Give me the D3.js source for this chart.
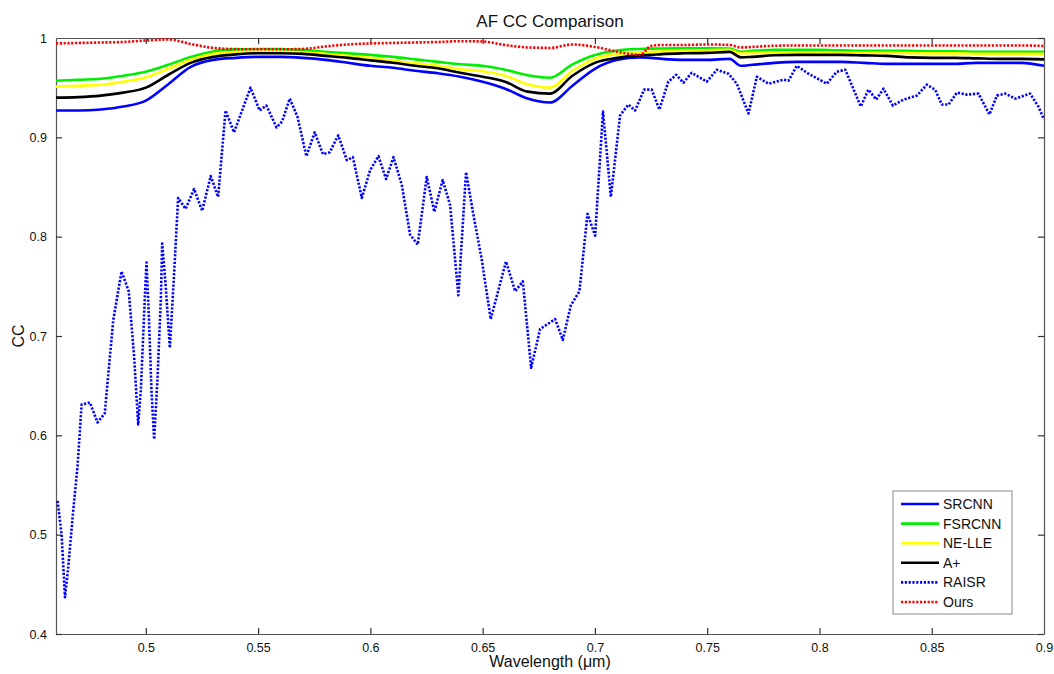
<!DOCTYPE html>
<html>
<head>
<meta charset="utf-8">
<script src="https://cdn.jsdelivr.net/npm/d3@7"></script>
<style>
  html, body { margin: 0; padding: 0; background: #fff; }
  svg { display: block; font-family: "Liberation Sans", Arial, Helvetica, sans-serif; }
</style>
</head>
<body>
<svg id="chart" width="1054" height="674"></svg>
<script>
// Wavelength grid (µm) shared by the smooth methods
const wavelengths = [0.46,0.47,0.48,0.49,0.50,0.51,0.52,0.53,0.54,0.55,0.56,0.57,0.58,0.59,0.60,
  0.61,0.62,0.63,0.64,0.65,0.66,0.67,0.68,0.69,0.70,0.71,0.72,0.725,0.73,0.74,0.75,0.76,0.765,
  0.77,0.78,0.79,0.80,0.81,0.82,0.83,0.84,0.85,0.86,0.87,0.88,0.89,0.90];

const srcnn = [0.927,0.927,0.928,0.931,0.937,0.9535,0.971,0.978,0.980,0.981,0.981,0.980,0.978,0.975,0.972,
  0.970,0.967,0.9645,0.961,0.956,0.949,0.939,0.935,0.952,0.969,0.978,0.9805,0.980,0.979,0.978,0.978,0.979,0.972,
  0.973,0.975,0.976,0.976,0.976,0.975,0.974,0.974,0.974,0.974,0.975,0.975,0.975,0.972];

const fsrcnn = [0.957,0.958,0.959,0.962,0.966,0.973,0.981,0.9865,0.9885,0.989,0.9888,0.988,0.986,0.9845,0.983,
  0.981,0.9785,0.976,0.9735,0.972,0.968,0.9625,0.960,0.9735,0.983,0.9875,0.989,0.9893,0.9895,0.9896,0.9896,0.9893,0.986,
  0.987,0.988,0.988,0.988,0.9875,0.987,0.987,0.987,0.9865,0.9865,0.986,0.986,0.986,0.986];

const nelle = [0.951,0.952,0.953,0.956,0.9605,0.969,0.978,0.984,0.9858,0.9862,0.986,0.9857,0.984,0.982,0.980,
  0.977,0.9745,0.972,0.9685,0.9665,0.962,0.9535,0.950,0.967,0.979,0.984,0.9855,0.986,0.9865,0.9873,0.9877,0.988,0.9846,
  0.985,0.985,0.985,0.985,0.985,0.985,0.985,0.9848,0.9845,0.9845,0.9842,0.984,0.984,0.984];

const aplus = [0.940,0.9405,0.942,0.945,0.950,0.963,0.975,0.981,0.9835,0.9846,0.9846,0.984,0.982,0.980,0.9775,
  0.975,0.972,0.9695,0.965,0.961,0.956,0.946,0.944,0.962,0.975,0.980,0.9825,0.983,0.9838,0.9846,0.985,0.986,0.9805,
  0.981,0.9826,0.983,0.983,0.983,0.9825,0.982,0.9805,0.980,0.980,0.9795,0.979,0.979,0.9785];

const ours = [0.9945,0.995,0.9955,0.996,0.9975,0.9985,0.994,0.990,0.9888,0.9886,0.9886,0.989,0.9915,0.9935,0.9945,
  0.995,0.9955,0.996,0.9968,0.9965,0.993,0.9905,0.990,0.9935,0.991,0.9862,0.983,0.992,0.993,0.993,0.9935,0.993,0.9905,
  0.991,0.9922,0.9925,0.9925,0.9925,0.9925,0.9925,0.9925,0.9925,0.9925,0.9925,0.9925,0.9925,0.992];

// RAISR is sampled on its own, denser wavelength set
const raisrWavelengths = [0.4607,0.4625,0.4640,0.4654,0.4677,0.4696,0.4714,0.4751,0.4785,0.4817,0.4855,0.4892,
  0.4924,0.4948,0.4966,0.4978,0.4996,0.5003,0.5013,0.5025,0.5037,0.5052,0.5067,0.5073,0.5088,0.5107,0.5126,0.5144,
  0.5177,0.5215,0.5251,0.5289,0.5322,0.5355,0.5393,0.5466,0.5507,0.5537,0.5582,0.5607,0.5641,0.5675,0.5715,0.5752,
  0.5789,0.5819,0.5857,0.5895,0.5922,0.5962,0.5999,0.6036,0.6070,0.6103,0.6140,0.6177,0.6211,0.6251,0.6285,0.6322,
  0.6355,0.6392,0.6426,0.6459,0.6496,0.6536,0.6604,0.6645,0.6679,0.6716,0.6756,0.6823,0.6857,0.6893,0.6931,0.6967,
  0.7001,0.7036,0.7071,0.7112,0.7149,0.7179,0.7219,0.7253,0.7287,0.7327,0.7362,0.7394,0.7431,0.7498,0.7543,0.7595,
  0.7632,0.7684,0.7721,0.7773,0.7840,0.7862,0.7899,0.7951,0.8033,0.8077,0.8115,0.8184,0.8218,0.8253,0.8285,0.8327,
  0.8374,0.8434,0.8478,0.8515,0.8545,0.8575,0.8612,0.8656,0.8708,0.8757,0.8790,0.8827,0.8872,0.8938,0.8975,0.9000];
const raisr = [0.534,0.500,0.437,0.466,0.525,0.569,0.631,0.633,0.613,0.622,0.716,0.765,
  0.745,0.679,0.611,0.646,0.741,0.774,0.723,0.646,0.596,0.657,0.738,0.793,0.752,0.688,0.763,0.839,
  0.828,0.848,0.826,0.861,0.840,0.927,0.905,0.950,0.927,0.932,0.910,0.916,0.939,0.921,0.881,0.905,
  0.883,0.885,0.902,0.877,0.880,0.839,0.867,0.881,0.858,0.880,0.852,0.802,0.792,0.860,0.825,0.857,
  0.832,0.741,0.865,0.822,0.777,0.717,0.775,0.745,0.755,0.668,0.707,0.717,0.696,0.731,0.745,0.823,
  0.801,0.926,0.840,0.922,0.933,0.927,0.948,0.948,0.928,0.956,0.963,0.955,0.965,0.956,0.968,0.964,
  0.954,0.924,0.961,0.954,0.958,0.957,0.972,0.964,0.954,0.966,0.968,0.931,0.948,0.938,0.949,0.932,
  0.938,0.942,0.953,0.948,0.933,0.933,0.945,0.943,0.944,0.923,0.942,0.944,0.939,0.944,0.931,0.918];

const xTicks = [0.5,0.55,0.6,0.65,0.7,0.75,0.8,0.85,0.9];
const yTicks = [0.4,0.5,0.6,0.7,0.8,0.9,1];
const yTickLabels = ["0.4","0.5","0.6","0.7","0.8","0.9","1"];

const series = [
  { name: "SRCNN",  x: wavelengths,      y: srcnn,  color: "#0000ff", dotted: false },
  { name: "FSRCNN", x: wavelengths,      y: fsrcnn, color: "#00ee00", dotted: false },
  { name: "NE-LLE", x: wavelengths,      y: nelle,  color: "#ffff00", dotted: false },
  { name: "A+",     x: wavelengths,      y: aplus,  color: "#000000", dotted: false },
  { name: "RAISR",  x: raisrWavelengths, y: raisr,  color: "#0000ff", dotted: true },
  { name: "Ours",   x: wavelengths,      y: ours,   color: "#ff0000", dotted: true }
];

const svg = d3.select("#chart");
const margin = { left: 56, right: 10, top: 38, bottom: 40 };
const W = 1054, H = 674;
const x = d3.scaleLinear().domain([0.46, 0.9]).range([margin.left, W - margin.right]);
const y = d3.scaleLinear().domain([0.4, 1]).range([H - margin.bottom, margin.top]);

const clipId = "plot-clip";
svg.append("defs").append("clipPath").attr("id", clipId)
  .append("rect").attr("x", x(0.46)).attr("y", y(1) - 3)
  .attr("width", x(0.9) - x(0.46)).attr("height", y(0.4) - y(1) + 3);

// Axes: ticks point inward, mirrored on the top and right edges
const tickLen = 6;
const axisColor = "#555";
const gBottom = svg.append("g").attr("transform", `translate(0,${y(0.4)})`)
  .call(d3.axisBottom(x).tickValues(xTicks).tickSizeInner(-tickLen).tickSizeOuter(0).tickPadding(9)
    .tickFormat(d => d3.format("")(+d.toFixed(2))));
const gTop = svg.append("g").attr("transform", `translate(0,${y(1)})`)
  .call(d3.axisTop(x).tickValues(xTicks).tickSizeInner(-tickLen).tickSizeOuter(0).tickFormat(""));
const gLeft = svg.append("g").attr("transform", `translate(${x(0.46)},0)`)
  .call(d3.axisLeft(y).tickValues(yTicks).tickSizeInner(-tickLen).tickSizeOuter(0).tickPadding(9)
    .tickFormat((d, i) => yTickLabels[i]));
const gRight = svg.append("g").attr("transform", `translate(${x(0.9)},0)`)
  .call(d3.axisRight(y).tickValues(yTicks).tickSizeInner(-tickLen).tickSizeOuter(0).tickFormat(""));

[gBottom, gTop, gLeft, gRight].forEach(g => {
  g.select(".domain").attr("stroke", axisColor).attr("stroke-width", 1.2);
  g.selectAll(".tick line").attr("stroke", "#333").attr("stroke-width", 1.2);
  g.selectAll(".tick text").attr("fill", "#111").attr("font-size", 12.5)
    .attr("font-family", "'Liberation Sans', Arial, sans-serif");
});
gBottom.select(".tick:last-of-type line").remove();
gLeft.select(".tick:last-of-type line").remove();

// Data lines
const plot = svg.append("g").attr("clip-path", `url(#${clipId})`);
series.forEach(s => {
  const pts = s.x.map((w, i) => [w, s.y[i]]);
  const line = d3.line()
    .x(d => x(d[0])).y(d => y(d[1]))
    .curve(s.name === "RAISR" ? d3.curveLinear : d3.curveMonotoneX);
  plot.append("path")
    .datum(pts)
    .attr("d", line)
    .attr("fill", "none")
    .attr("stroke", s.color)
    .attr("stroke-width", s.dotted ? 2.6 : 2.6)
    .attr("stroke-dasharray", s.dotted ? "2.2,1.6" : null)
    .attr("stroke-linejoin", "round");
});

// Title and axis labels
svg.append("text").attr("x", (x(0.46) + x(0.9)) / 2).attr("y", 27)
  .attr("text-anchor", "middle").attr("font-size", 17).attr("fill", "#111")
  .text("AF CC Comparison");
svg.append("text").attr("x", (x(0.46) + x(0.9)) / 2).attr("y", 667)
  .attr("text-anchor", "middle").attr("font-size", 16).attr("fill", "#111")
  .text("Wavelength (\u03bcm)");
svg.append("text").attr("transform", `translate(24,${(y(0.4) + y(1)) / 2}) rotate(-90)`)
  .attr("text-anchor", "middle").attr("font-size", 16).attr("fill", "#111")
  .text("CC");

// Legend
const lg = svg.append("g").attr("transform", "translate(893,491)");
lg.append("rect").attr("width", 119).attr("height", 123)
  .attr("fill", "#fff").attr("stroke", "#888").attr("stroke-width", 1);
series.forEach((s, i) => {
  const yy = 13 + i * 19.6;
  lg.append("line").attr("x1", 8).attr("x2", 46).attr("y1", yy).attr("y2", yy)
    .attr("stroke", s.color).attr("stroke-width", 2.6)
    .attr("stroke-dasharray", s.dotted ? "2.2,1.6" : null);
  lg.append("text").attr("x", 50).attr("y", yy + 5).attr("font-size", 14).attr("fill", "#111")
    .text(s.name);
});
</script>
</body>
</html>
